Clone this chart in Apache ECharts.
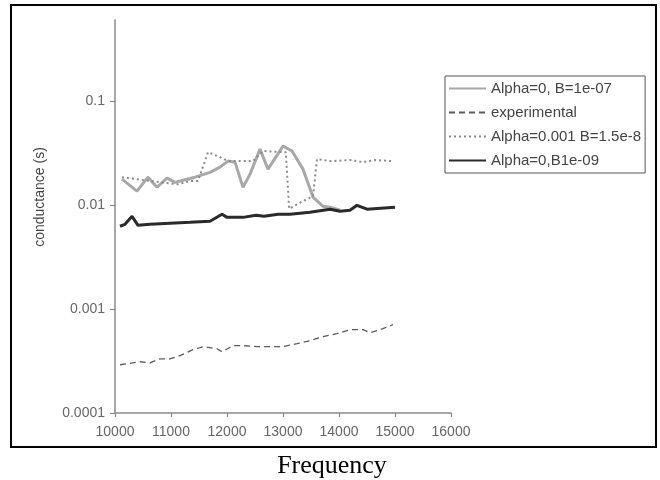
<!DOCTYPE html>
<html><head><meta charset="utf-8">
<script src="https://cdn.jsdelivr.net/npm/echarts@6/dist/echarts.min.js"></script>
<style>html,body{margin:0;padding:0;background:#fff}#c{width:660px;height:480px}</style>
</head><body><div id="c"></div>
<script>
// ---- data ----
const seriesNames = ['Alpha=0, B=1e-07', 'experimental', 'Alpha=0.001 B=1.5e-8', 'Alpha=0,B1e-09'];

const freqA = [10125, 10393, 10589, 10750, 10929, 11071, 11250, 11429, 11696, 11875, 12018, 12143, 12286, 12411, 12589, 12732, 13000, 13161, 13357, 13536, 13714, 13839, 14018];
const valA  = [0.0177, 0.0136, 0.0185, 0.0148, 0.0181, 0.0165, 0.0175, 0.0185, 0.0206, 0.0231, 0.0264, 0.0258, 0.0148, 0.0198, 0.0344, 0.0221, 0.0368, 0.0330, 0.0221, 0.0119, 0.0097, 0.0095, 0.0089];

const freqB = [10089, 10268, 10446, 10625, 10804, 10982, 11161, 11393, 11571, 11821, 11911, 12107, 12286, 12536, 12768, 13000, 13250, 13482, 13714, 13964, 14196, 14429, 14554, 14786, 14964];
const valB  = [0.000291, 0.000300, 0.000311, 0.000304, 0.000332, 0.000332, 0.000356, 0.000406, 0.000434, 0.000415, 0.000388, 0.000444, 0.000444, 0.000434, 0.000434, 0.000434, 0.000464, 0.000495, 0.000542, 0.000580, 0.000632, 0.000632, 0.000591, 0.000647, 0.000708];

const freqC = [10125, 10625, 11107, 11339, 11482, 11661, 11875, 12018, 12464, 12643, 13000, 13050, 13110, 13357, 13536, 13607, 13839, 14196, 14429, 14643, 14964];
const valC  = [0.0185, 0.0170, 0.0158, 0.0170, 0.0170, 0.0322, 0.0288, 0.0264, 0.0264, 0.0330, 0.0322, 0.0322, 0.0092, 0.0109, 0.0121, 0.0276, 0.0264, 0.0270, 0.0258, 0.0270, 0.0264];

const freqD = [10089, 10179, 10304, 10411, 10625, 10982, 11339, 11696, 11911, 12000, 12286, 12518, 12661, 12911, 13125, 13482, 13839, 14018, 14196, 14321, 14500, 15000];
const valD  = [0.00624, 0.00652, 0.00778, 0.00637, 0.00652, 0.00667, 0.00681, 0.00697, 0.00813, 0.00760, 0.00760, 0.00796, 0.00778, 0.00813, 0.00813, 0.00851, 0.00910, 0.00869, 0.00890, 0.00993, 0.00910, 0.00950];

const xMin = 10000, xMax = 16000, xStep = 1000;
const yMin = 0.0001, yMax = 0.6;
const xTitle = 'Frequency';
const yTitle = 'conductance (s)';

function pairs(xs, ys) { return xs.map((x, i) => [x, ys[i]]); }

const chart = echarts.init(document.getElementById('c'), null, {renderer: 'canvas'});
const labelFont = '"Liberation Sans", Arial, sans-serif';

chart.setOption({
  animation: false,
  backgroundColor: '#ffffff',
  grid: {left: 115, right: 209, top: 20, bottom: 67, containLabel: false},
  xAxis: {
    type: 'value', min: xMin, max: xMax, interval: xStep,
    axisLine: {show: true, lineStyle: {color: '#8a8a8a', width: 1.5}},
    axisTick: {show: true, length: 4, inside: false, lineStyle: {color: '#8a8a8a', width: 1.2}},
    axisLabel: {color: '#666', fontSize: 14, fontFamily: labelFont, margin: 12, formatter: v => String(v)},
    splitLine: {show: false}
  },
  yAxis: {
    type: 'log', logBase: 10, min: yMin, max: yMax,
    axisLine: {show: true, lineStyle: {color: '#8a8a8a', width: 1.5}},
    axisTick: {show: true, length: 5, lineStyle: {color: '#8a8a8a', width: 1.2}},
    axisLabel: {color: '#666', fontSize: 14, fontFamily: labelFont, margin: 10, showMaxLabel: false,
      formatter: v => String(Number(v.toPrecision(3)))},
    splitLine: {show: false}
  },
  legend: {
    orient: 'vertical', left: 445, top: 76,
    data: seriesNames,
    backgroundColor: '#fff',
    borderColor: '#555', borderWidth: 1,
    padding: [5, 4, 5, 3],
    itemWidth: 37, itemHeight: 14, itemGap: 9,
    itemStyle: {opacity: 0},
    textStyle: {color: '#444', fontSize: 15, fontFamily: labelFont}
  },
  series: [
    {name: seriesNames[0], type: 'line', data: pairs(freqA, valA), showSymbol: false, symbol: 'none',
     lineStyle: {color: '#a8a8a8', width: 3}, itemStyle: {color: '#a8a8a8'}, z: 2},
    {name: seriesNames[1], type: 'line', data: pairs(freqB, valB), showSymbol: false, symbol: 'none',
     lineStyle: {color: '#5a5a5a', width: 1.3, type: [6, 4]}, itemStyle: {color: '#5a5a5a'}, z: 3},
    {name: seriesNames[2], type: 'line', data: pairs(freqC, valC), showSymbol: false, symbol: 'none',
     lineStyle: {color: '#8a8a8a', width: 2, type: [2, 3]}, itemStyle: {color: '#8a8a8a'}, z: 4},
    {name: seriesNames[3], type: 'line', data: pairs(freqD, valD), showSymbol: false, symbol: 'none',
     lineStyle: {color: '#2a2a2a', width: 3}, itemStyle: {color: '#2a2a2a'}, z: 5}
  ],
  graphic: [
    {type: 'rect', shape: {x: 11, y: 5, width: 645, height: 442}, style: {fill: null, stroke: '#000', lineWidth: 2}, silent: true, z: 100},
    {type: 'text', x: 40, y: 197, rotation: Math.PI / 2,
     style: {text: yTitle, fill: '#444', fontSize: 14, fontFamily: labelFont, align: 'center', verticalAlign: 'middle'}},
    {type: 'text', x: 332, y: 466,
     style: {text: xTitle, fill: '#000', fontSize: 26, fontFamily: '"Liberation Serif", "Times New Roman", serif', align: 'center', verticalAlign: 'middle'}}
  ]
});
</script>
</body></html>
